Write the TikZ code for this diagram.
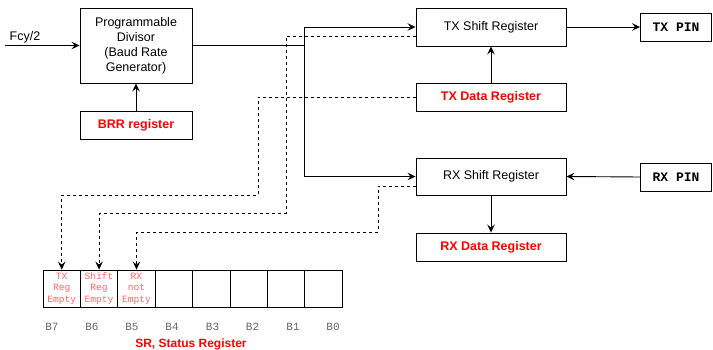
\documentclass[tikz,border=0pt]{standalone}
\usepackage{fontspec}
\setmainfont{Liberation Sans}
\setmonofont{Liberation Mono}
\usetikzlibrary{arrows.meta}
\definecolor{lred}{HTML}{FF6666}
\definecolor{bgray}{HTML}{666666}
\begin{document}
\begin{tikzpicture}[x=1pt,y=-1pt,
  box/.style={draw, line width=0.9pt, inner sep=0pt, align=center, font=\fontsize{12.5}{15}\selectfont},
  redbox/.style={box, text=red, font=\fontsize{12.5}{15}\selectfont\bfseries},
  pinbox/.style={box, font=\fontsize{13}{15}\selectfont\ttfamily\bfseries},
  cell/.style={draw, line width=0.9pt, inner sep=0pt, minimum width=37.4pt, minimum height=37pt, align=center, text=lred, font=\fontsize{9.6}{11.5}\selectfont\ttfamily},
  blabel/.style={text=bgray, font=\fontsize{11}{12}\selectfont\ttfamily},
  conn/.style={line width=0.9pt, -{Stealth[length=8pt,width=7.5pt,inset=3pt]}},
  dconn/.style={line width=0.8pt, dash pattern=on 3pt off 3pt, -{Stealth[length=8pt,width=7.5pt,inset=3pt]}}
]
\useasboundingbox (0,0) rectangle (713,350);

\node[box, minimum width=112pt, minimum height=75pt] (div) at (136,45.5) {Programmable\\Divisor\\(Baud Rate\\Generator)};
\node[redbox, minimum width=112pt, minimum height=28pt] (brr) at (136,125) {BRR register};
\node[box, minimum width=150pt, minimum height=38pt] (txs) at (491,27) {TX Shift Register};
\node[redbox, minimum width=150pt, minimum height=28pt] (txd) at (491,97) {TX Data Register};
\node[pinbox, minimum width=71pt, minimum height=28pt] (txpin) at (676,27) {TX PIN};
\node[box, minimum width=150pt, minimum height=37pt] (rxs) at (491,176.5) {RX Shift Register};
\node[redbox, minimum width=150pt, minimum height=28pt] (rxd) at (491,247) {RX Data Register};
\node[pinbox, minimum width=71pt, minimum height=28pt] (rxpin) at (676,177) {RX PIN};

\node[cell] (c7) at (61.7,288.5) {TX\\Reg\\Empty};
\node[cell] (c6) at (99.1,288.5) {Shift\\Reg\\Empty};
\node[cell] (c5) at (136.5,288.5) {RX\\not\\Empty};
\node[cell] (c4) at (173.9,288.5) {};
\node[cell] (c3) at (211.3,288.5) {};
\node[cell] (c2) at (248.7,288.5) {};
\node[cell] (c1) at (286.1,288.5) {};
\node[cell] (c0) at (323.5,288.5) {};

\node[blabel] (b7) at (52,327) {B7};
\node[blabel] (b6) at (92,327) {B6};
\node[blabel] (b5) at (132,327) {B5};
\node[blabel] (b4) at (172,327) {B4};
\node[blabel] (b3) at (212.5,327) {B3};
\node[blabel] (b2) at (252.5,327) {B2};
\node[blabel] (b1) at (293,327) {B1};
\node[blabel] (b0) at (333,327) {B0};
\node[text=red, font=\fontsize{12}{13}\selectfont\bfseries] (srl) at (191,344) {SR, Status Register};

\coordinate (fin) at (5,45.5);
\node[font=\fontsize{12.5}{14}\selectfont] (fcy) at (25,37) {Fcy/2};
\draw[conn] (fin) -- (div.west);
\draw[conn] (brr.north) -- (div.south);

\coordinate (j) at (304,45.5);
\draw[line width=1.2pt] (div.east) -- (j);
\draw[conn] (j) |- (txs.west);
\draw[conn] (j) |- (rxs.west);
\draw[conn] (txd.north) -- (txs.south);
\draw[conn] (txs.east) -- (txpin.west);
\draw[conn] (rxpin.west) -- (rxs.east);
\draw[conn] (rxs.south) -- (rxd.north);

\draw[dconn] ([yshift=-9pt]txs.west) -| (286,213) -| (c6.north);
\draw[dconn] (txd.west) -| (258,195) -| (c7.north);
\draw[dconn] ([yshift=-9.5pt]rxs.west) -| (378,232) -| (c5.north);
\end{tikzpicture}
\end{document}
